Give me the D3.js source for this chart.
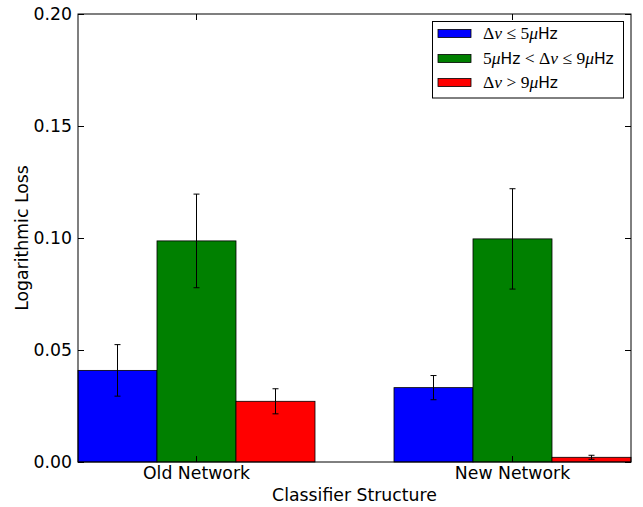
<!DOCTYPE html>
<html>
<head>
<meta charset="utf-8">
<script src="https://cdn.jsdelivr.net/npm/d3@7/dist/d3.min.js"></script>
<style>
  html, body { margin: 0; padding: 0; background: #fff; }
  svg { display: block; }
  text { font-family: "DejaVu Sans", sans-serif; }
</style>
</head>
<body>
<svg id="chart" width="643" height="507"></svg>
<script>
// Groups along the x axis
const categories = ["Old Network", "New Network"];
// Frequency-separation bins (legend order)
const seriesKeys = ["low", "mid", "high"];
const seriesColors = ["#0000ff", "#008000", "#ff0000"];
// Mean logarithmic loss for each bin, per network
const lowValues  = [0.0409, 0.0332];
const midValues  = [0.0987, 0.0996];
const highValues = [0.0271, 0.0021];
// Error bar half-widths
const lowErrors  = [0.0115, 0.0054];
const midErrors  = [0.0209, 0.0224];
const highErrors = [0.0056, 0.0009];
// Y axis ticks
const yTicks = [0.00, 0.05, 0.10, 0.15, 0.20];

const valuesBySeries = [lowValues, midValues, highValues];
const errorsBySeries = [lowErrors, midErrors, highErrors];

const svg = d3.select("#chart");
const margin = { left: 78, right: 12, top: 14, bottom: 45 };
const W = 643, H = 507;
const x0 = margin.left, x1 = W - margin.right;
const y0 = margin.top, y1 = H - margin.bottom;

const x = d3.scaleBand().domain(categories).range([x0, x1])
  .paddingInner(0.25).paddingOuter(0);
const xs = d3.scaleBand().domain(seriesKeys).range([0, x.bandwidth()]).padding(0);
const y = d3.scaleLinear().domain([0, 0.20]).range([y1, y0]);

const rows = [];
seriesKeys.forEach((k, si) => {
  categories.forEach((c, ci) => {
    rows.push({ key: k, cat: c, v: valuesBySeries[si][ci], e: errorsBySeries[si][ci], color: seriesColors[si] });
  });
});

// Bars
svg.append("g").selectAll("rect").data(rows).join("rect")
  .attr("x", d => x(d.cat) + xs(d.key))
  .attr("y", d => y(d.v))
  .attr("width", xs.bandwidth())
  .attr("height", d => y(0) - y(d.v))
  .attr("fill", d => d.color)
  .attr("stroke", "#000")
  .attr("stroke-width", 0.8);

// Error bars
const eb = svg.append("g").attr("stroke", "#000").attr("stroke-width", 1);
rows.forEach(d => {
  const cx = x(d.cat) + xs(d.key) + xs.bandwidth() / 2;
  const top = y(d.v + d.e), bot = y(Math.max(0, d.v - d.e));
  eb.append("line").attr("x1", cx).attr("x2", cx).attr("y1", top).attr("y2", bot);
  eb.append("line").attr("x1", cx - 3).attr("x2", cx + 3).attr("y1", top).attr("y2", top);
  eb.append("line").attr("x1", cx - 3).attr("x2", cx + 3).attr("y1", bot).attr("y2", bot);
});

const fs = "17.3px";
function styleAxis(g) {
  g.select(".domain").remove();
  g.selectAll(".tick line").attr("stroke", "#000");
  g.selectAll(".tick text").attr("fill", "#000").style("font-size", fs)
    .style("font-family", "'DejaVu Sans', sans-serif");
}

// Left axis with inward ticks
svg.append("g").attr("transform", `translate(${x0},0)`)
  .call(d3.axisLeft(y).tickValues(yTicks).tickFormat(d3.format(".2f"))
    .tickSizeInner(-6).tickSizeOuter(0).tickPadding(6))
  .call(styleAxis);
// Right axis ticks
svg.append("g").attr("transform", `translate(${x1},0)`)
  .call(d3.axisRight(y).tickValues(yTicks).tickFormat("")
    .tickSizeInner(-6).tickSizeOuter(0))
  .call(styleAxis);
// Bottom axis
svg.append("g").attr("transform", `translate(0,${y1})`)
  .call(d3.axisBottom(x).tickSizeInner(-6).tickSizeOuter(0).tickPadding(5))
  .call(styleAxis);
// Top axis ticks
svg.append("g").attr("transform", `translate(0,${y0})`)
  .call(d3.axisTop(x).tickFormat("").tickSizeInner(-6).tickSizeOuter(0))
  .call(styleAxis);

// Frame
svg.append("rect").attr("x", x0).attr("y", y0)
  .attr("width", x1 - x0).attr("height", y1 - y0)
  .attr("fill", "none").attr("stroke", "#000").attr("stroke-width", 1);

// Axis titles
svg.append("text").attr("x", (x0 + x1) / 2).attr("y", 501)
  .attr("text-anchor", "middle").style("font-size", fs).text("Classifier Structure");
svg.append("text").attr("transform", `translate(28,${(y0 + y1) / 2}) rotate(-90)`)
  .attr("text-anchor", "middle").style("font-size", fs).text("Logarithmic Loss");

// Legend
const legendLabels = [
  [["Δ", "m"], ["ν", "mi"], [" ≤ ", "m"], ["5", "m"], ["μ", "mi"], ["Hz", "s"]],
  [["5", "m"], ["μ", "mi"], ["Hz", "s"], [" < ", "m"], ["Δ", "m"], ["ν", "mi"], [" ≤ ", "m"], ["9", "m"], ["μ", "mi"], ["Hz", "s"]],
  [["Δ", "m"], ["ν", "mi"], [" > ", "m"], ["9", "m"], ["μ", "mi"], ["Hz", "s"]]
];
const lg = svg.append("g");
lg.append("rect").attr("x", 432.5).attr("y", 21.5).attr("width", 191).attr("height", 76.5)
  .attr("fill", "#fff").attr("stroke", "#000").attr("stroke-width", 1);
const rowY = [33.5, 58.5, 82.5];
seriesKeys.forEach((k, i) => {
  lg.append("rect").attr("x", 438).attr("y", rowY[i] - 4).attr("width", 33).attr("height", 8)
    .attr("fill", seriesColors[i]).attr("stroke", "#000").attr("stroke-width", 0.8);
  const t = lg.append("text").attr("x", 483).attr("y", rowY[i] + 5.5);
  legendLabels[i].forEach(([s, kind]) => {
    const ts = t.append("tspan").text(s).attr("xml:space", "preserve");
    if (kind === "s") ts.style("font-family", "'DejaVu Sans', sans-serif").style("font-size", "15.5px");
    else ts.style("font-family", "'Liberation Serif', serif").style("font-size", "17.5px")
      .style("font-style", kind === "mi" ? "italic" : "normal");
  });
});
</script>
</body>
</html>
